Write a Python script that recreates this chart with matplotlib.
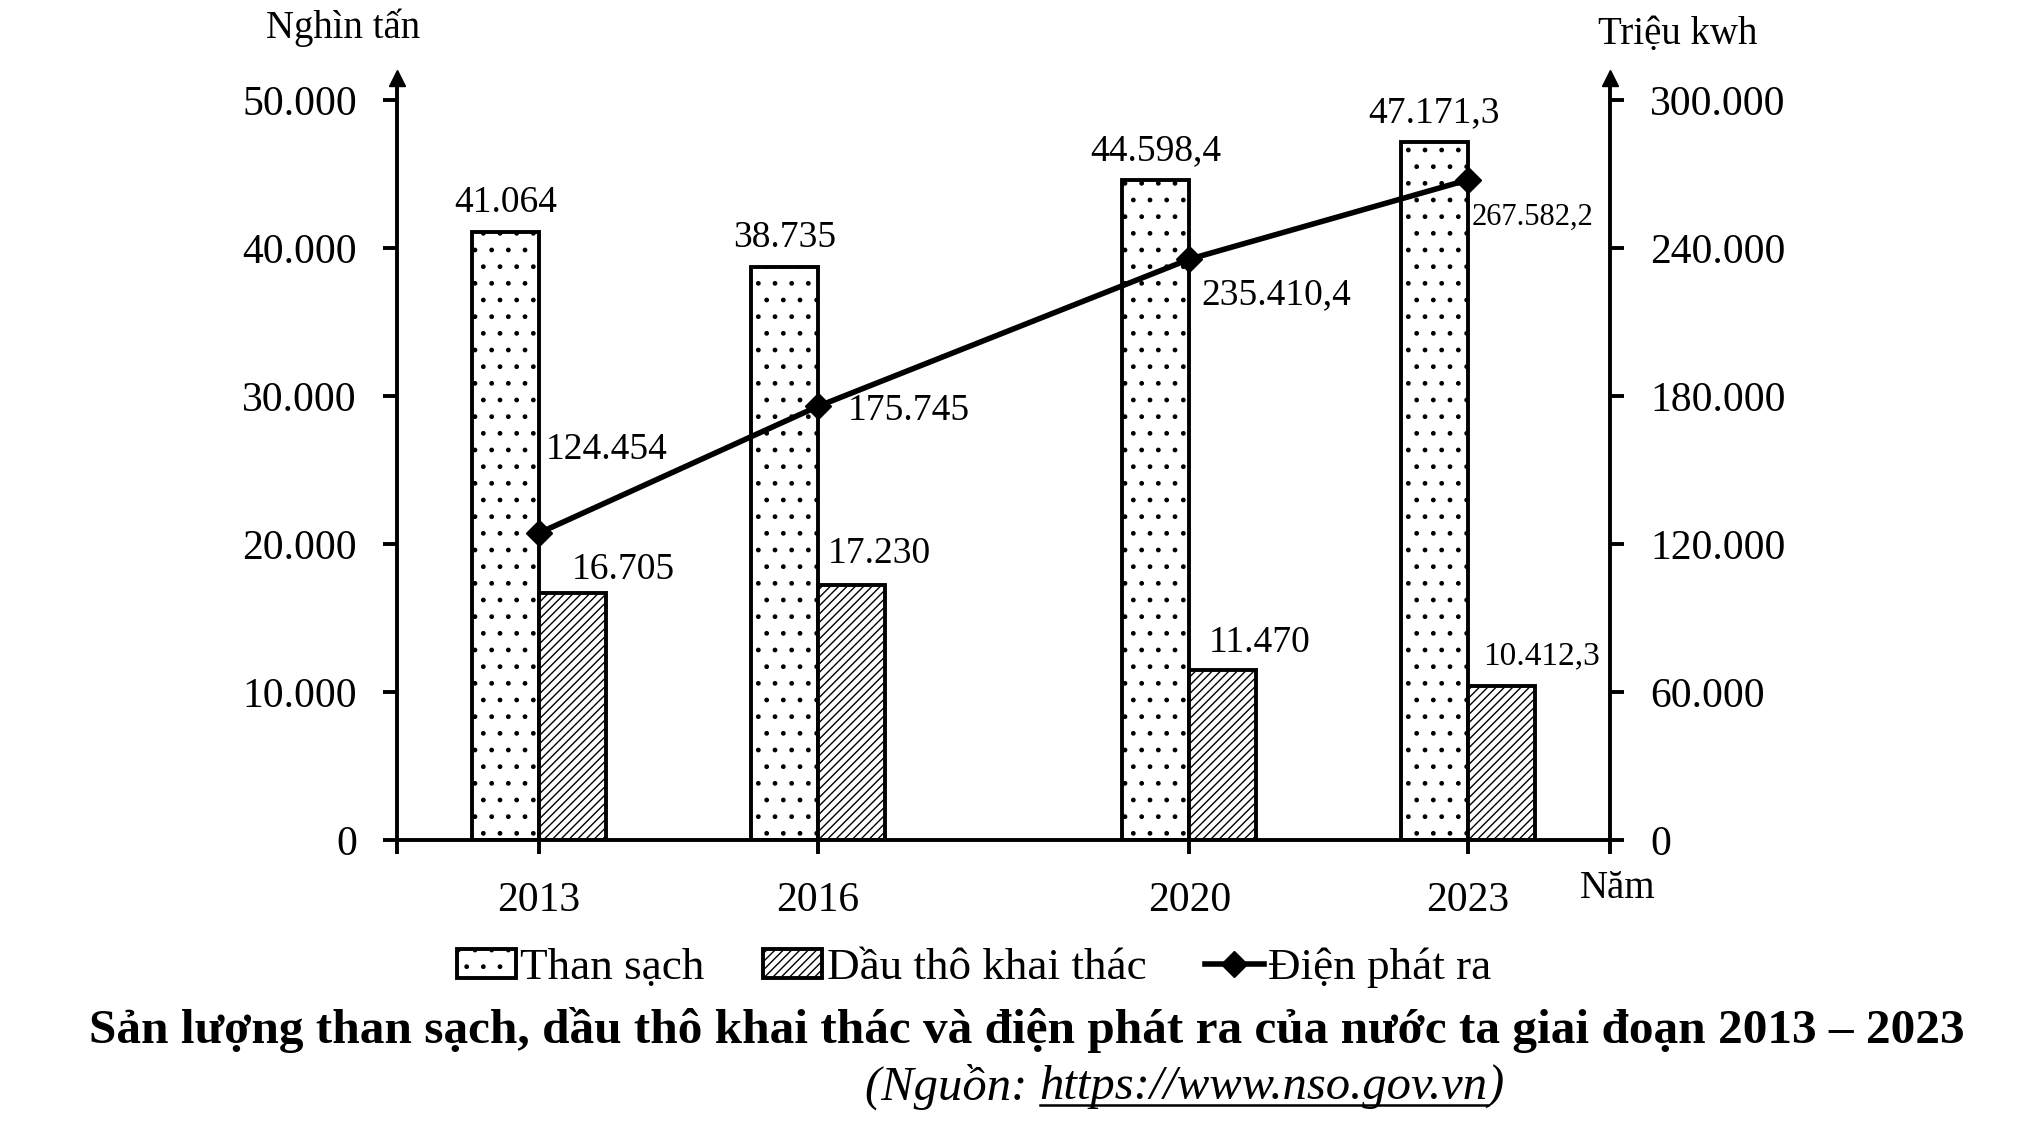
import matplotlib
matplotlib.use('Agg')
import matplotlib.pyplot as plt
from matplotlib.lines import Line2D
import numpy as np

plt.rcParams['font.family'] = ['Liberation Serif', 'DejaVu Serif']
plt.rcParams['hatch.linewidth'] = 1.0

# Data
years = [2013, 2016, 2020, 2023]
than_sach = [41064, 38735, 44598.4, 47171.3]
dau_tho = [16705, 17230, 11470, 10412.3]
dien = [124454, 175745, 235410.4, 267582.2]
than_labels = ['41.064', '38.735', '44.598,4', '47.171,3']
dau_labels = ['16.705', '17.230', '11.470', '10.412,3']
dien_labels = ['124.454', '175.745', '235.410,4', '267.582,2']
left_ticks = [0, 10000, 20000, 30000, 40000, 50000]
left_ticklabels = ['0', '10.000', '20.000', '30.000', '40.000', '50.000']
right_ticks = [0, 60000, 120000, 180000, 240000, 300000]
right_ticklabels = ['0', '60.000', '120.000', '180.000', '240.000', '300.000']

fig = plt.figure(figsize=(20.3, 11.24), dpi=100)
ax = fig.add_axes([0.1956, 0.2527, 0.5975, 0.678])
ax2 = ax.twinx()

x = np.array(years, dtype=float)
w = 0.72
lw = 2.8

b1 = ax.bar(x - w / 2, than_sach, w, facecolor='white', edgecolor='black',
            linewidth=lw, hatch='.', label='Than sạch')
b2 = ax.bar(x + w / 2, dau_tho, w, facecolor='white', edgecolor='black',
            linewidth=lw, hatch='////', label='Dầu thô khai thác')
ln, = ax2.plot(x, dien, color='black', lw=4, marker='D', ms=13,
               label='Điện phát ra')

# axes limits (top a bit above the last tick, for the arrow)
ax.set_xlim(2011.47, 2024.53)
ax.set_ylim(0, 51486)
ax2.set_ylim(0, 308919)

# ticks
xt = [2011.47] + years + [2024.53]
ax.set_xticks(xt)
ax.set_xticklabels([''] + [str(y) for y in years] + [''])
ax.set_yticks(left_ticks)
ax.set_yticklabels(left_ticklabels)
ax2.set_yticks(right_ticks)
ax2.set_yticklabels(right_ticklabels)
ax.tick_params(axis='x', direction='out', length=10, width=lw, labelsize=30, pad=20)
ax.tick_params(axis='y', direction='out', length=10, width=lw, labelsize=30, pad=19)
ax2.tick_params(axis='y', direction='out', length=10, width=lw, labelsize=30, pad=19)

for a in (ax, ax2):
    a.spines['top'].set_visible(False)
    for s in a.spines.values():
        s.set_linewidth(lw)
ax.spines['right'].set_visible(False)
ax2.spines['left'].set_visible(False)
ax2.spines['bottom'].set_visible(False)

# arrow heads on the vertical axes
ax.plot([0], [1], marker='^', ms=11, color='black', transform=ax.transAxes, clip_on=False)
ax.plot([1], [1], marker='^', ms=11, color='black', transform=ax.transAxes, clip_on=False)

# value labels
for xi, v, t in zip(x, than_sach, than_labels):
    ax.annotate(t, (xi - w / 2, v), xytext=(0, 29), textcoords='offset pixels',
                ha='center', va='center', fontsize=27)

dau_off = [(51, 23), (28, 31), (37, 27), (40, 30)]
dau_fs = [27, 27, 27, 24]
for xi, v, t, o, fs in zip(x, dau_tho, dau_labels, dau_off, dau_fs):
    ax.annotate(t, (xi + w / 2, v), xytext=o, textcoords='offset pixels',
                ha='center', va='center', fontsize=fs)

dien_off = [(7, 83), (30, -4), (12, -36), (4, -37)]
dien_fs = [27, 27, 27, 22]
for xi, v, t, o, fs in zip(x, dien, dien_labels, dien_off, dien_fs):
    ax2.annotate(t, (xi, v), xytext=o, textcoords='offset pixels',
                 ha='left', va='center', fontsize=fs)

# axis titles
fig.text(343 / 2030, 1 - 28 / 1124, 'Nghìn tấn', ha='center', va='center', fontsize=28)
fig.text(1678 / 2030, 1 - 35 / 1124, 'Triệu kwh', ha='center', va='center', fontsize=28)
fig.text(1618 / 2030, 1 - 888 / 1124, 'Năm', ha='center', va='center', fontsize=28)

# legend
fig.legend(handles=[b1, b2, ln], loc='center', bbox_to_anchor=(0.480, 0.1388),
           ncol=3, frameon=False, fontsize=32.5, handlelength=1.3,
           handletextpad=0.1, columnspacing=1.3, handleheight=0.6)

# title
fig.text(0.506, 0.0836,
         'Sản lượng than sạch, dầu thô khai thác và điện phát ra của nước ta giai đoạn 2013 – 2023',
         ha='center', va='center', fontsize=35.5, fontweight='bold')

# source line with underlined link
renderer = fig.canvas.get_renderer()
ys = 0.033
fs_src = 35
t1 = fig.text(865 / 2030, ys, '(Nguồn: ', ha='left', va='center', fontsize=fs_src, style='italic')
e1 = t1.get_window_extent(renderer)
t2 = fig.text(e1.x1 / fig.bbox.width, ys, 'https://www.nso.gov.vn', ha='left', va='center',
              fontsize=fs_src, style='italic')
e2 = t2.get_window_extent(renderer)
fig.text(e2.x1 / fig.bbox.width, ys, ')', ha='left', va='center', fontsize=fs_src, style='italic')
uy = (e2.y0 + 4) / fig.bbox.height
fig.add_artist(Line2D([e2.x0 / fig.bbox.width, e2.x1 / fig.bbox.width], [uy, uy],
                      color='black', lw=1.8, transform=fig.transFigure))

fig.savefig('out.png', dpi=100)
